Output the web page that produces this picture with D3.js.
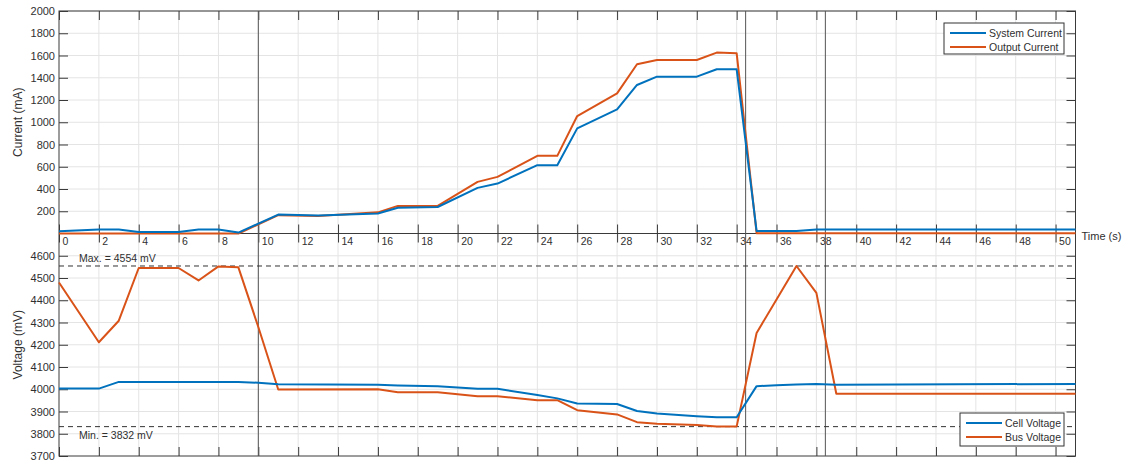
<!DOCTYPE html>
<html>
<head>
<meta charset="utf-8">
<script src="https://cdn.jsdelivr.net/npm/d3@7"></script>
<style>
  html, body { margin: 0; padding: 0; background: #ffffff; }
  svg { display: block; font-family: "Liberation Sans", Arial, sans-serif; }
</style>
</head>
<body>
<svg id="chart" width="1126" height="461"></svg>
<script>
// ---------- data ----------
const currentTimes   = [0, 2, 3, 4, 6, 7, 8, 9, 11, 13, 16, 17, 19, 21, 22, 24, 25, 26, 28, 29, 30, 32, 33, 34, 35, 37, 38, 51];
const systemCurrent  = [20, 35, 35, 14, 14, 35, 35, 8, 170, 162, 180, 232, 238, 410, 449, 614, 614, 945, 1116, 1335, 1410, 1410, 1476, 1476, 23, 23, 35, 35];
const outputCurrent  = [0, 0, 0, 0, 0, 0, 0, 0, 165, 158, 190, 248, 248, 464, 509, 698, 698, 1056, 1260, 1521, 1560, 1560, 1626, 1620, 3, 3, 3, 3];

const voltageTimes   = [0, 2, 3, 4, 6, 7, 8, 9, 10, 11, 16, 17, 19, 21, 22, 24, 25, 26, 28, 29, 30, 32, 33, 34, 35, 36, 37, 38, 39, 51];
const cellVoltage    = [4003, 4003, 4033, 4033, 4033, 4033, 4033, 4033, 4029, 4022, 4020, 4017, 4014, 4002, 4002, 3974, 3959, 3936, 3934, 3902, 3891, 3879, 3874, 3874, 4014, 4018, 4021, 4024, 4020, 4024];
const busVoltage     = [4480, 4211, 4308, 4545, 4545, 4489, 4552, 4548, 4280, 3999, 4000, 3987, 3987, 3969, 3969, 3951, 3951, 3906, 3887, 3852, 3845, 3839, 3833, 3833, 4253, 4403, 4554, 4433, 3980, 3980];

const xTicks         = d3.range(0, 51, 2);
const currentTicks   = [200, 400, 600, 800, 1000, 1200, 1400, 1600, 1800, 2000];
const voltageTicks   = [3700, 3800, 3900, 4000, 4100, 4200, 4300, 4400, 4500, 4600];
const eventTimes     = [10, 34.45, 38.45];
const maxVoltage     = 4554;
const minVoltage     = 3832;
const currentLegend  = ["System Current", "Output Current"];
const voltageLegend  = ["Cell Voltage", "Bus Voltage"];

// ---------- layout ----------
const L = 59, R = 1075.5, T = 11, M = 233.5, B = 456;
const blue = "#0072BD", orange = "#D95319";
const axisCol = "#3a3a3a", textCol = "#303030", gridCol = "#e4e4e4";

const svg = d3.select("#chart");
const x = d3.scaleLinear().domain([0, 51]).range([L, R]);
const yI = d3.scaleLinear().domain([0, 2000]).range([M, T]);
const yV = d3.scaleLinear().domain([3700, 4700]).range([B, M]);

// grid
const grid = svg.append("g");
grid.selectAll(".vg").data(xTicks.filter(d => d > 0)).join("line")
  .attr("x1", d => x(d)).attr("x2", d => x(d)).attr("y1", T).attr("y2", B)
  .attr("stroke", gridCol).attr("stroke-width", 1);
grid.selectAll(".hgI").data(currentTicks).join("line")
  .attr("x1", L).attr("x2", R).attr("y1", d => yI(d)).attr("y2", d => yI(d))
  .attr("stroke", gridCol).attr("stroke-width", 1);
grid.selectAll(".hgV").data(voltageTicks.filter(d => d > 3700)).join("line")
  .attr("x1", L).attr("x2", R).attr("y1", d => yV(d)).attr("y2", d => yV(d))
  .attr("stroke", gridCol).attr("stroke-width", 1);

// axes boxes
svg.append("rect").attr("x", L).attr("y", T).attr("width", R - L).attr("height", B - T)
  .attr("fill", "none").attr("stroke", axisCol).attr("stroke-width", 1);
svg.append("line").attr("x1", L).attr("x2", R).attr("y1", M).attr("y2", M)
  .attr("stroke", axisCol).attr("stroke-width", 1.2);

// tick marks via d3 axes
const tl = 9;
function styleAxis(g) {
  g.select(".domain").remove();
  g.selectAll(".tick line").attr("stroke", axisCol);
  g.selectAll(".tick text").remove();
}
svg.append("g").attr("transform", `translate(0,${T})`)
  .call(d3.axisBottom(x).tickValues(xTicks).tickSize(tl)).call(styleAxis);
svg.append("g").attr("transform", `translate(0,${M})`)
  .call(d3.axisTop(x).tickValues(xTicks).tickSize(tl)).call(styleAxis);
svg.append("g").attr("transform", `translate(0,${M})`)
  .call(d3.axisBottom(x).tickValues(xTicks).tickSize(tl)).call(styleAxis);
svg.append("g").attr("transform", `translate(0,${B})`)
  .call(d3.axisTop(x).tickValues(xTicks).tickSize(tl)).call(styleAxis);
svg.append("g").attr("transform", `translate(${L},0)`)
  .call(d3.axisRight(yI).tickValues(currentTicks).tickSize(tl)).call(styleAxis);
svg.append("g").attr("transform", `translate(${R},0)`)
  .call(d3.axisLeft(yI).tickValues(currentTicks).tickSize(tl)).call(styleAxis);
svg.append("g").attr("transform", `translate(${L},0)`)
  .call(d3.axisRight(yV).tickValues(voltageTicks).tickSize(tl)).call(styleAxis);
svg.append("g").attr("transform", `translate(${R},0)`)
  .call(d3.axisLeft(yV).tickValues(voltageTicks).tickSize(tl)).call(styleAxis);

// tick labels
svg.append("g").selectAll("text").data(xTicks).join("text")
  .attr("x", d => x(d) + 3.5).attr("y", M + 11)
  .attr("font-size", 10.5).attr("fill", textCol).text(d => d);
svg.append("g").selectAll("text").data(currentTicks).join("text")
  .attr("x", L - 4).attr("y", d => yI(d) + 4).attr("text-anchor", "end")
  .attr("font-size", 11).attr("fill", textCol).text(d => d);
svg.append("g").selectAll("text").data(voltageTicks).join("text")
  .attr("x", L - 4).attr("y", d => yV(d) + 4).attr("text-anchor", "end")
  .attr("font-size", 11).attr("fill", textCol).text(d => d);

// axis titles
svg.append("text").attr("transform", `translate(22,${(T + M) / 2}) rotate(-90)`)
  .attr("text-anchor", "middle").attr("font-size", 12).attr("fill", textCol).text("Current (mA)");
svg.append("text").attr("transform", `translate(22,${(M + B) / 2}) rotate(-90)`)
  .attr("text-anchor", "middle").attr("font-size", 12).attr("fill", textCol).text("Voltage (mV)");
svg.append("text").attr("x", R + 6).attr("y", M + 6)
  .attr("font-size", 11).attr("fill", textCol).text("Time (s)");

// event lines
svg.append("g").selectAll("line").data(eventTimes).join("line")
  .attr("x1", d => x(d)).attr("x2", d => x(d)).attr("y1", T).attr("y2", B)
  .attr("stroke", "#555").attr("stroke-width", 1);

// min/max dashed lines
const limits = [{v: maxVoltage, label: "Max. = " + maxVoltage + " mV", dy: -4},
                {v: minVoltage, label: "Min. = " + minVoltage + " mV", dy: 12}];
svg.append("g").selectAll("line").data(limits).join("line")
  .attr("x1", L).attr("x2", R).attr("y1", d => yV(d.v)).attr("y2", d => yV(d.v))
  .attr("stroke", "#333").attr("stroke-width", 1).attr("stroke-dasharray", "5,4");
svg.append("g").selectAll("text").data(limits).join("text")
  .attr("x", L + 20).attr("y", d => yV(d.v) + d.dy)
  .attr("font-size", 10.5).attr("fill", textCol).text(d => d.label);

// series lines
const lineI = d3.line().x((d, i) => x(currentTimes[i])).y(d => yI(d));
const lineV = d3.line().x((d, i) => x(voltageTimes[i])).y(d => yV(d));
svg.append("path").datum(outputCurrent).attr("d", lineI)
  .attr("fill", "none").attr("stroke", orange).attr("stroke-width", 2).attr("stroke-linejoin", "round");
svg.append("path").datum(systemCurrent).attr("d", lineI)
  .attr("fill", "none").attr("stroke", blue).attr("stroke-width", 2).attr("stroke-linejoin", "round");
svg.append("path").datum(busVoltage).attr("d", lineV)
  .attr("fill", "none").attr("stroke", orange).attr("stroke-width", 2).attr("stroke-linejoin", "round");
svg.append("path").datum(cellVoltage).attr("d", lineV)
  .attr("fill", "none").attr("stroke", blue).attr("stroke-width", 2).attr("stroke-linejoin", "round");

// legends
function legend(x0, y0, w, h, lineW, labels) {
  const g = svg.append("g");
  g.append("rect").attr("x", x0).attr("y", y0).attr("width", w).attr("height", h)
    .attr("fill", "#fff").attr("stroke", "#333").attr("stroke-width", 1);
  const colors = [blue, orange];
  labels.forEach((lab, i) => {
    const yy = y0 + 10 + i * 14;
    g.append("line").attr("x1", x0 + 6).attr("x2", x0 + 6 + lineW).attr("y1", yy).attr("y2", yy)
      .attr("stroke", colors[i]).attr("stroke-width", 2);
    g.append("text").attr("x", x0 + 9 + lineW).attr("y", yy + 3.5)
      .attr("font-size", 10.5).attr("fill", textCol).text(lab);
  });
}
legend(944, 23, 120, 31, 36, currentLegend);
legend(960, 413, 104, 33, 36, voltageLegend);
</script>
</body>
</html>
